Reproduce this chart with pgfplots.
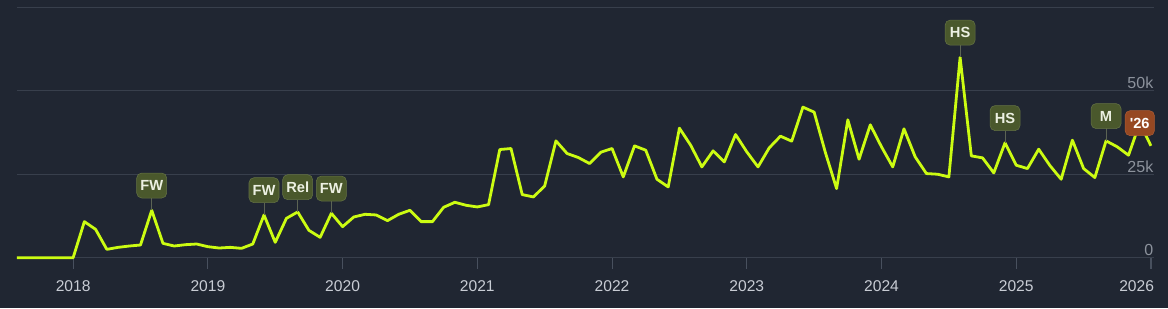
\documentclass[border=0pt]{standalone}
\usepackage{pgfplots}
\pgfplotsset{compat=1.18}
\usepackage{pgfplotstable}
\usepackage{fontspec}
\setmainfont{Liberation Sans}
\pgfdeclarelayer{background}
\pgfsetlayers{background,main}
\definecolor{bg}{RGB}{32,38,50}
\definecolor{gridc}{RGB}{56,63,76}
\definecolor{tickc}{RGB}{72,80,94}
\definecolor{xlab}{RGB}{200,204,212}
\definecolor{ylab}{RGB}{140,146,156}
\definecolor{linec}{RGB}{204,252,18}
\definecolor{badgec}{RGB}{74,88,44}
\definecolor{badgeb}{RGB}{100,114,68}
\definecolor{badget}{RGB}{236,240,226}
\definecolor{stemc}{RGB}{92,100,84}
\definecolor{orangec}{RGB}{150,72,34}
\definecolor{orangeb}{RGB}{172,92,52}

\pgfplotstableread{
m v
-5 0
-4 0
-3 0
-2 0
-1 0
0 0
1 10800
2 8500
3 2500
4 3100
5 3500
6 3800
7 14200
8 4300
9 3500
10 3900
11 4100
12 3300
13 2900
14 3100
15 2800
16 4100
17 12800
18 4600
19 11800
20 13700
21 8200
22 6100
23 13300
24 9300
25 12200
26 13000
27 12800
28 11100
29 13000
30 14200
31 10800
32 10800
33 15100
34 16600
35 15700
36 15200
37 15900
38 32400
39 32700
40 18900
41 18200
42 21500
43 35000
44 31200
45 30000
46 28200
47 31600
48 32700
49 24200
50 33500
51 32200
52 23500
53 21200
54 38800
55 33700
56 27200
57 32000
58 28700
59 36900
60 31700
61 27200
62 32900
63 36400
64 34900
65 45100
66 43600
67 31500
68 20700
69 41300
70 29500
71 39800
72 33200
73 27200
74 38600
75 30200
76 25200
77 25000
78 24200
79 60000
80 30500
81 29900
82 25400
83 34400
84 27700
85 26700
86 32500
87 27600
88 23500
89 35200
90 26700
91 24000
92 35000
93 33200
94 30700
95 40300
96 33500
}\datatab

\pgfplotstableread{
m v lab
7 14200 FW
17 12800 FW
20 13700 Rel
23 13300 FW
79 60000 HS
83 34400 HS
92 35000 M
}\labtab

\pgfplotstableread{
m v lab
95 40300 \textquotesingle{}26
}\yeartab

\begin{document}
\begin{tikzpicture}[x=0.75pt,y=0.75pt]
\begin{axis}[
  scale only axis, width=852.75pt, height=187.8pt,
  xmin=-5, xmax=96.27, ymin=0, ymax=75000,
  clip=false,
  axis line style={draw=none},
  ymajorgrids, grid style={draw=gridc, line width=0.9pt},
  ytick={0,25000,50000,75000}, yticklabels={0,25k,50k,{}},
  yticklabel pos=right,
  ytick style={draw=none},
  yticklabel style={anchor=base east, inner sep=0pt, text=ylab,
    font=\fontsize{12}{14}\selectfont, xshift=-8.6pt, yshift=1.5pt},
  scaled y ticks=false,
  xtick={0,12,24,36,48,60,72,84,96},
  xticklabels={2018,2019,2020,2021,2022,2023,2024,2025,{\hspace{4.5pt}\makebox[0pt][r]{2026}}},
  xtick pos=bottom,
  xtick style={draw=tickc, line width=0.8pt},
  tick align=outside, major tick length=8.25pt,
  xticklabel style={anchor=base, inner sep=0pt, text=xlab,
    font=\fontsize{11.7}{14}\selectfont, yshift=-17.25pt},
]
\coordinate (sw) at (axis description cs:0,0);
\addplot[draw=none, mark=none, nodes near coords, point meta=explicit symbolic,
  every node near coord/.style={anchor=center, fill=orangec, draw=orangeb,
    rounded corners=3.75pt, minimum width=22pt, minimum height=18.75pt,
    inner sep=0pt, text=white, font=\bfseries\fontsize{11}{11}\selectfont}]
  table[x=m, y=v, meta=lab]{\yeartab};
\addplot[linec, line width=2.1pt, line join=round, mark=none] table[x=m, y=v]{\datatab};
\addplot[draw=none, mark=none, nodes near coords, point meta=explicit symbolic,
  every node near coord/.style={anchor=south, yshift=9pt, fill=badgec, draw=badgeb,
    rounded corners=3.75pt, minimum width=22.5pt, minimum height=18.75pt,
    inner sep=0pt, text=badget, font=\bfseries\fontsize{11}{11}\selectfont},
  error bars/.cd, y dir=plus, y fixed=3700, error mark=none,
  error bar style={draw=stemc, line width=0.75pt}]
  table[x=m, y=v, meta=lab]{\labtab};
\end{axis}
\pgfresetboundingbox
\begin{pgfonlayer}{background}
\fill[bg] ([shift={(-17,-50.3)}]sw) rectangle ++(1168,308);
\end{pgfonlayer}
\useasboundingbox ([shift={(-17,-50.3)}]sw) rectangle ++(1168,308);
\end{tikzpicture}
\end{document}
